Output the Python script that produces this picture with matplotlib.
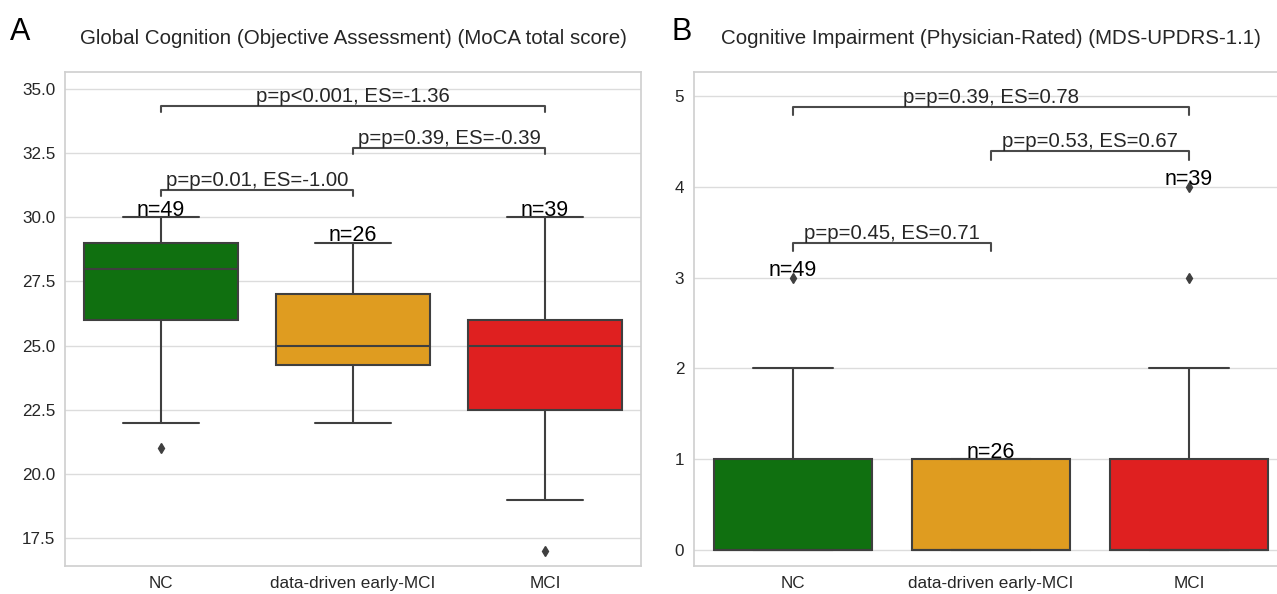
import matplotlib
matplotlib.use("Agg")
import matplotlib.pyplot as plt
import seaborn as sns

sns.set_theme(style="whitegrid")
plt.rcParams['font.family'] = ['Liberation Sans', 'DejaVu Sans']

# ---------------- data ----------------
groups = ['NC', 'data-driven early-MCI', 'MCI']
colors = ['green', 'orange', 'red']

moca_q1 = [26.0, 24.25, 22.5]
moca_med = [28.0, 25.0, 25.0]
moca_q3 = [29.0, 27.0, 26.0]
moca_wlo = [22.0, 22.0, 19.0]
moca_whi = [30.0, 29.0, 30.0]
moca_fliers = [[21.0], [], [17.0]]
moca_n = [49, 26, 39]
moca_max = [30.0, 29.0, 30.0]

updrs_q1 = [0.0, 0.0, 0.0]
updrs_med = [0.0, 0.0, 0.0]
updrs_q3 = [1.0, 1.0, 1.0]
updrs_wlo = [0.0, 0.0, 0.0]
updrs_whi = [2.0, 1.0, 2.0]
updrs_fliers = [[3.0], [], [3.0, 4.0]]
updrs_n = [49, 26, 39]
updrs_max = [3.0, 1.0, 4.0]

moca_pairs = [(0, 1), (1, 2), (0, 2)]
moca_labels = ['p=p=0.01, ES=-1.00', 'p=p=0.39, ES=-0.39', 'p=p<0.001, ES=-1.36']
moca_bracket_y = [30.84, 32.45, 34.10]
moca_bracket_h = 0.24

updrs_pairs = [(0, 1), (1, 2), (0, 2)]
updrs_labels = ['p=p=0.45, ES=0.71', 'p=p=0.53, ES=0.67', 'p=p=0.39, ES=0.78']
updrs_bracket_y = [3.29, 4.30, 4.79]
updrs_bracket_h = 0.09

titles = ['Global Cognition (Objective Assessment) (MoCA total score)',
          'Cognitive Impairment (Physician-Rated) (MDS-UPDRS-1.1)']


def desat(c, s=0.75):
    return sns.desaturate(c, s)


def draw(ax, q1, med, q3, wlo, whi, fliers, ns, mx, pairs, labels, by, bh, title, ylim, yticks, yfmt):
    stats = []
    for i in range(len(groups)):
        stats.append(dict(q1=q1[i], med=med[i], q3=q3[i], whislo=wlo[i], whishi=whi[i],
                          fliers=fliers[i], label=groups[i]))
    gray = '#3f3f3f'
    bp = ax.bxp(stats, positions=range(len(groups)), widths=0.8, patch_artist=True,
                showfliers=True,
                boxprops=dict(edgecolor=gray, linewidth=1.5),
                medianprops=dict(color=gray, linewidth=1.5),
                whiskerprops=dict(color=gray, linewidth=1.5),
                capprops=dict(color=gray, linewidth=1.5),
                flierprops=dict(marker='d', markerfacecolor=gray, markeredgecolor=gray,
                                markersize=5),
                capwidths=0.4)
    for patch, c in zip(bp['boxes'], colors):
        patch.set_facecolor(desat(c))
    for i, (n, m) in enumerate(zip(ns, mx)):
        ax.annotate(f'n={n}', (i, m), xytext=(0, 1.2), textcoords='offset points',
                    ha='center', va='baseline', fontsize=15.5, color='black')
    for (a, b), lab, y in zip(pairs, labels, by):
        ax.plot([a, a, b, b], [y, y + bh, y + bh, y], color='#4a4a4a', lw=1.5)
        ax.text((a + b) / 2, y + bh, lab, ha='center', va='bottom', fontsize=14.7, color='#262626')
    ax.set_xlim(-0.5, 2.5)
    ax.set_ylim(*ylim)
    ax.set_yticks(yticks)
    ax.set_yticklabels([yfmt.format(t) for t in yticks])
    ax.set_xticks(range(len(groups)))
    ax.set_xticklabels(groups)
    ax.tick_params(axis='both', labelsize=12.3, colors='#262626', pad=1)
    ax.set_title(title, fontsize=14.8, pad=20, color='#262626')
    ax.grid(axis='x', visible=False)
    ax.grid(axis='y', color='#dcdcdc')
    for s in ax.spines.values():
        s.set_color('#d0d0d0')


W, H = 1277, 594
fig = plt.figure(figsize=(W / 100, H / 100), dpi=100)
axA = fig.add_axes([65 / W, (H - 566) / H, (641 - 65) / W, (566 - 72) / H])
axB = fig.add_axes([694 / W, (H - 566) / H, (1288 - 694) / W, (566 - 72) / H])

draw(axA, moca_q1, moca_med, moca_q3, moca_wlo, moca_whi, moca_fliers, moca_n, moca_max,
     moca_pairs, moca_labels, moca_bracket_y, moca_bracket_h, titles[0],
     (16.41, 35.66), [17.5, 20.0, 22.5, 25.0, 27.5, 30.0, 32.5, 35.0], '{:.1f}')
draw(axB, updrs_q1, updrs_med, updrs_q3, updrs_wlo, updrs_whi, updrs_fliers, updrs_n, updrs_max,
     updrs_pairs, updrs_labels, updrs_bracket_y, updrs_bracket_h, titles[1],
     (-0.175, 5.265), [0, 1, 2, 3, 4, 5], '{:d}')

fig.text(10 / W, 1 - 40 / H, 'A', fontsize=22, color='black')
fig.text(672 / W, 1 - 40 / H, 'B', fontsize=22, color='black')

fig.savefig('out.png', dpi=100)
